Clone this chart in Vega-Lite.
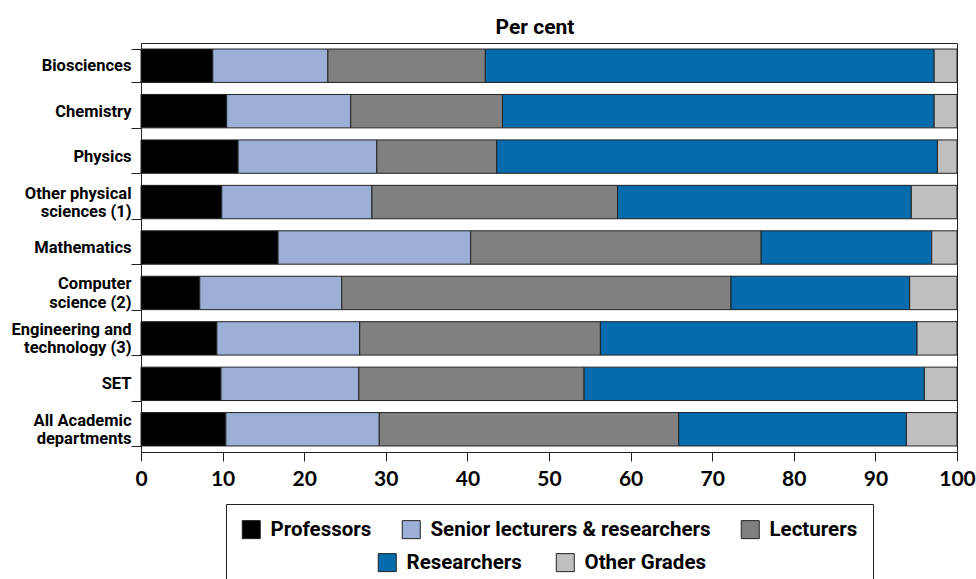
{
  "$schema": "https://vega.github.io/schema/vega-lite/v6.json",
  "autosize": {"type": "none"},
  "width": 816,
  "height": 409,
  "padding": {"left": 141, "top": 43, "right": 19, "bottom": 127},
  "background": "white",
  "title": {
    "text": "Per cent",
    "anchor": "middle",
    "frame": "group",
    "dx": -14,
    "offset": -3,
    "font": "Roboto",
    "fontSize": 21,
    "fontWeight": "bold",
    "color": "#000"
  },
  "data": {
    "values": [
      {"dept": "Biosciences", "grade": "Professors", "k": 1, "pct": 8.8},
      {"dept": "Biosciences", "grade": "Senior lecturers & researchers", "k": 2, "pct": 14.1},
      {"dept": "Biosciences", "grade": "Lecturers", "k": 3, "pct": 19.3},
      {"dept": "Biosciences", "grade": "Researchers", "k": 4, "pct": 55.0},
      {"dept": "Biosciences", "grade": "Other Grades", "k": 5, "pct": 2.8},
      {"dept": "Chemistry", "grade": "Professors", "k": 1, "pct": 10.5},
      {"dept": "Chemistry", "grade": "Senior lecturers & researchers", "k": 2, "pct": 15.2},
      {"dept": "Chemistry", "grade": "Lecturers", "k": 3, "pct": 18.6},
      {"dept": "Chemistry", "grade": "Researchers", "k": 4, "pct": 52.9},
      {"dept": "Chemistry", "grade": "Other Grades", "k": 5, "pct": 2.8},
      {"dept": "Physics", "grade": "Professors", "k": 1, "pct": 11.9},
      {"dept": "Physics", "grade": "Senior lecturers & researchers", "k": 2, "pct": 17.0},
      {"dept": "Physics", "grade": "Lecturers", "k": 3, "pct": 14.7},
      {"dept": "Physics", "grade": "Researchers", "k": 4, "pct": 54.0},
      {"dept": "Physics", "grade": "Other Grades", "k": 5, "pct": 2.4},
      {"dept": "Other physical sciences (1)", "grade": "Professors", "k": 1, "pct": 9.9},
      {"dept": "Other physical sciences (1)", "grade": "Senior lecturers & researchers", "k": 2, "pct": 18.4},
      {"dept": "Other physical sciences (1)", "grade": "Lecturers", "k": 3, "pct": 30.1},
      {"dept": "Other physical sciences (1)", "grade": "Researchers", "k": 4, "pct": 36.0},
      {"dept": "Other physical sciences (1)", "grade": "Other Grades", "k": 5, "pct": 5.6},
      {"dept": "Mathematics", "grade": "Professors", "k": 1, "pct": 16.8},
      {"dept": "Mathematics", "grade": "Senior lecturers & researchers", "k": 2, "pct": 23.6},
      {"dept": "Mathematics", "grade": "Lecturers", "k": 3, "pct": 35.6},
      {"dept": "Mathematics", "grade": "Researchers", "k": 4, "pct": 20.9},
      {"dept": "Mathematics", "grade": "Other Grades", "k": 5, "pct": 3.1},
      {"dept": "Computer science (2)", "grade": "Professors", "k": 1, "pct": 7.2},
      {"dept": "Computer science (2)", "grade": "Senior lecturers & researchers", "k": 2, "pct": 17.4},
      {"dept": "Computer science (2)", "grade": "Lecturers", "k": 3, "pct": 47.7},
      {"dept": "Computer science (2)", "grade": "Researchers", "k": 4, "pct": 21.9},
      {"dept": "Computer science (2)", "grade": "Other Grades", "k": 5, "pct": 5.8},
      {"dept": "Engineering and technology (3)", "grade": "Professors", "k": 1, "pct": 9.3},
      {"dept": "Engineering and technology (3)", "grade": "Senior lecturers & researchers", "k": 2, "pct": 17.5},
      {"dept": "Engineering and technology (3)", "grade": "Lecturers", "k": 3, "pct": 29.5},
      {"dept": "Engineering and technology (3)", "grade": "Researchers", "k": 4, "pct": 38.8},
      {"dept": "Engineering and technology (3)", "grade": "Other Grades", "k": 5, "pct": 4.9},
      {"dept": "SET", "grade": "Professors", "k": 1, "pct": 9.8},
      {"dept": "SET", "grade": "Senior lecturers & researchers", "k": 2, "pct": 16.9},
      {"dept": "SET", "grade": "Lecturers", "k": 3, "pct": 27.6},
      {"dept": "SET", "grade": "Researchers", "k": 4, "pct": 41.7},
      {"dept": "SET", "grade": "Other Grades", "k": 5, "pct": 4.0},
      {"dept": "All Academic departments", "grade": "Professors", "k": 1, "pct": 10.4},
      {"dept": "All Academic departments", "grade": "Senior lecturers & researchers", "k": 2, "pct": 18.8},
      {"dept": "All Academic departments", "grade": "Lecturers", "k": 3, "pct": 36.7},
      {"dept": "All Academic departments", "grade": "Researchers", "k": 4, "pct": 27.9},
      {"dept": "All Academic departments", "grade": "Other Grades", "k": 5, "pct": 6.2}
    ]
  },
  "encoding": {
    "x": {
      "field": "pct",
      "type": "quantitative",
      "aggregate": "sum",
      "stack": "zero",
      "scale": {"domain": [0, 100], "nice": false},
      "axis": {
        "title": null,
        "values": [0, 10, 20, 30, 40, 50, 60, 70, 80, 90, 100],
        "grid": false,
        "tickSize": 9,
        "tickColor": "#222",
        "domainColor": "#222",
        "labelFont": "Lato",
        "labelFontSize": 21,
        "labelFontWeight": "bold",
        "labelColor": "#000",
        "labelPadding": 7,
        "labelFlush": false
      }
    },
    "y": {
      "field": "dept",
      "type": "nominal",
      "sort": ["Biosciences", "Chemistry", "Physics", "Other physical sciences (1)", "Mathematics", "Computer science (2)", "Engineering and technology (3)", "SET", "All Academic departments"],
      "scale": {"paddingInner": 0.265, "paddingOuter": 0.1325},
      "axis": {
        "title": null,
        "tickBand": "extent",
        "tickSize": 10,
        "tickColor": "#222",
        "domainColor": "#222",
        "labelFont": "Roboto",
        "labelFontSize": 16.5,
        "labelFontWeight": "bold",
        "labelColor": "#000",
        "labelPadding": 0,
        "labelLineHeight": 18.5,
        "labelOffset": {
          "condition": {
            "test": "datum.value == 'Other physical sciences (1)' || datum.value == 'Computer science (2)' || datum.value == 'Engineering and technology (3)' || datum.value == 'All Academic departments'",
            "value": -9
          },
          "value": 0
        },
        "labelExpr": "datum.value == 'Other physical sciences (1)' ? ['Other physical', 'sciences (1)'] : datum.value == 'Computer science (2)' ? ['Computer', 'science (2)'] : datum.value == 'Engineering and technology (3)' ? ['Engineering and', 'technology (3)'] : datum.value == 'All Academic departments' ? ['All Academic', 'departments'] : datum.label"
      }
    },
    "order": {"field": "k", "type": "quantitative"}
  },
  "layer": [
    {
      "mark": {"type": "bar", "stroke": "#222", "strokeWidth": 1},
      "encoding": {
        "color": {
          "field": "grade",
          "type": "nominal",
          "scale": {
            "domain": ["Professors", "Senior lecturers & researchers", "Lecturers", "Researchers", "Other Grades"],
            "range": ["#000000", "#9BAFD7", "#808080", "#046BAD", "#BFBFBF"]
          },
          "legend": {
            "title": null,
            "orient": "none",
            "legendX": 85,
            "legendY": 461,
            "direction": "horizontal",
            "columns": 3,
            "padding": 15,
            "strokeColor": "#222",
            "columnPadding": 28,
            "rowPadding": 13,
            "symbolType": "square",
            "symbolSize": 324,
            "symbolStrokeColor": "#222",
            "symbolStrokeWidth": 1,
            "symbolOpacity": 1,
            "labelFont": "Roboto",
            "labelFontSize": 20.5,
            "labelFontWeight": "bold",
            "labelColor": "#000",
            "labelOffset": 9,
            "labelLimit": 400,
            "labelExpr": "datum.value == 'Researchers' || datum.value == 'Other Grades' ? '' : datum.label",
            "encode": {
              "symbols": {
                "update": {
                  "opacity": {"signal": "datum.value == 'Researchers' || datum.value == 'Other Grades' ? 0 : 1"}
                }
              }
            }
          }
        }
      }
    },
    {
      "transform": [{"filter": {"field": "grade", "oneOf": ["Researchers", "Other Grades"]}}],
      "mark": {"type": "bar", "opacity": 0},
      "encoding": {
        "fill": {
          "field": "grade",
          "type": "nominal",
          "scale": {
            "domain": ["Researchers", "Other Grades"],
            "range": ["#046BAD", "#BFBFBF"]
          },
          "legend": {
            "title": null,
            "orient": "none",
            "legendX": 236,
            "legendY": 509,
            "direction": "horizontal",
            "padding": 0,
            "columnPadding": 32,
            "symbolType": "square",
            "symbolSize": 324,
            "symbolStrokeColor": "#222",
            "symbolStrokeWidth": 1,
            "symbolOpacity": 1,
            "labelFont": "Roboto",
            "labelFontSize": 20.5,
            "labelFontWeight": "bold",
            "labelColor": "#000",
            "labelOffset": 9,
            "labelLimit": 400
          }
        }
      }
    }
  ],
  "config": {
    "view": {"stroke": "#222", "strokeWidth": 1}
  }
}
